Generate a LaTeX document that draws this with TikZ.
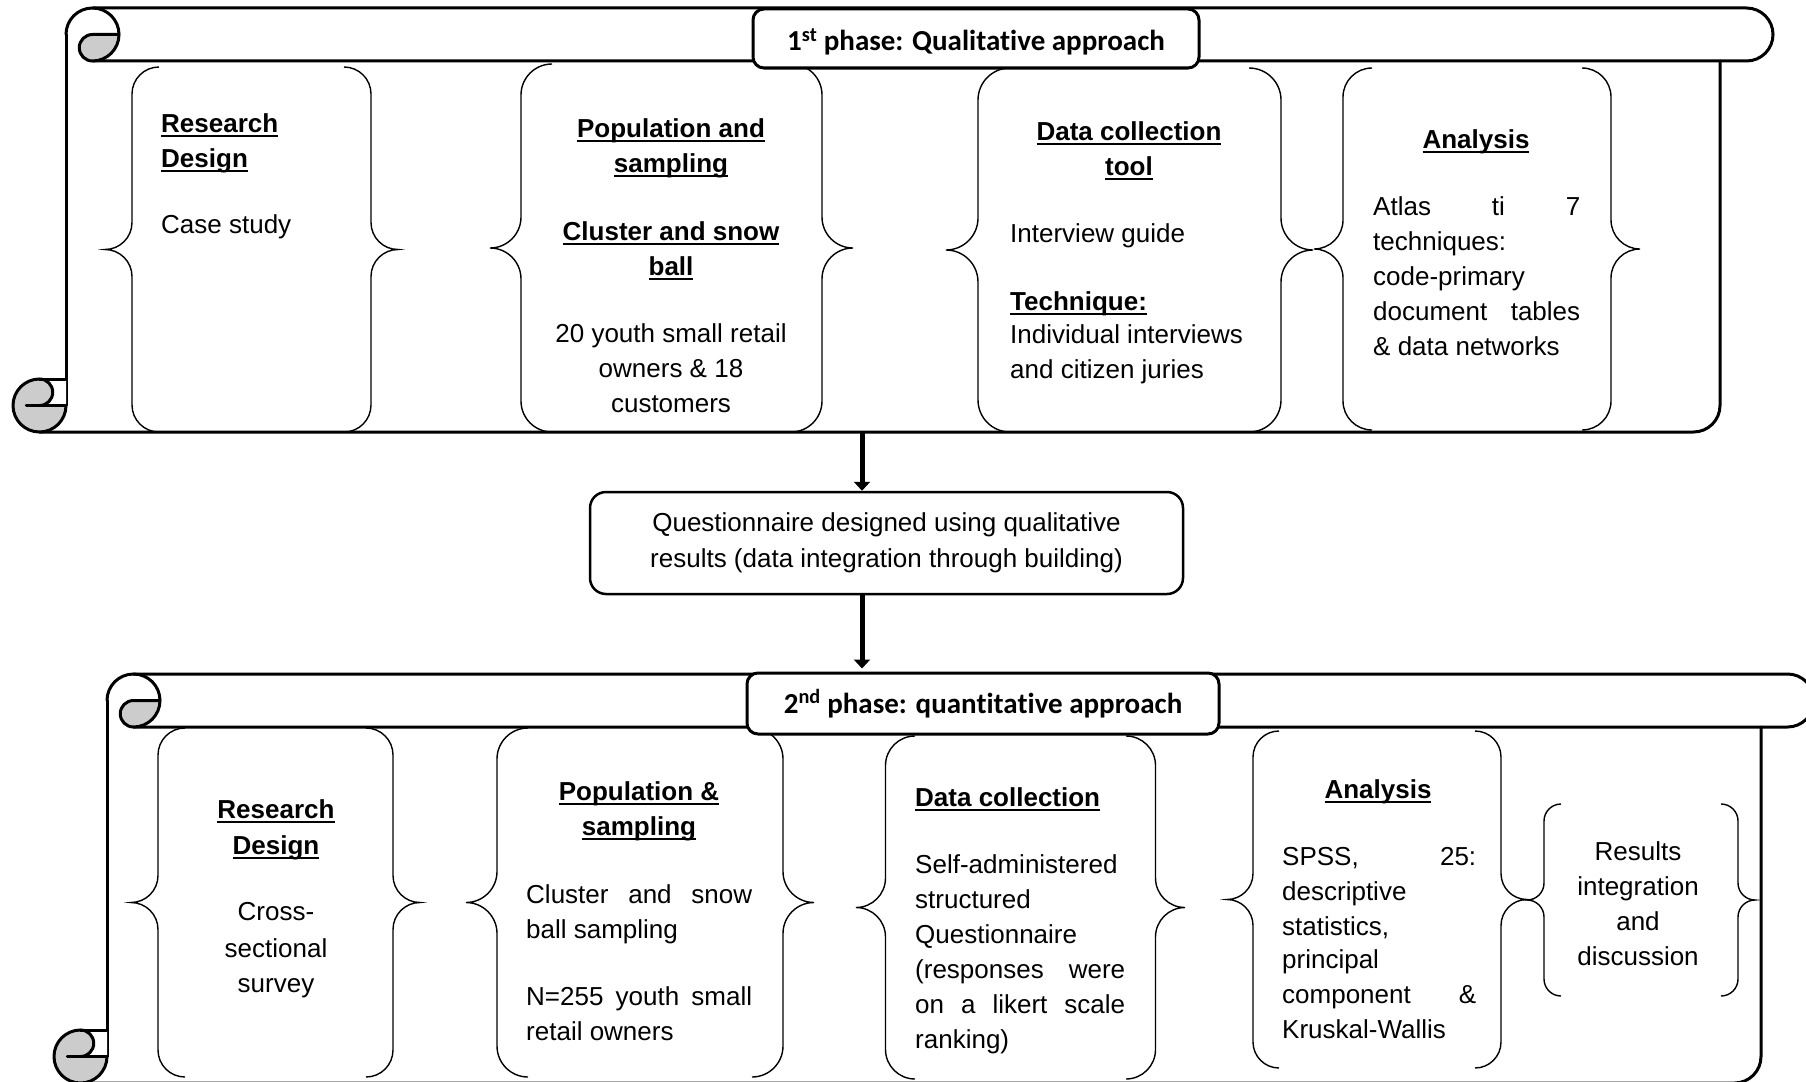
\documentclass[tikz,border=0pt]{standalone}
\usepackage{fontspec}
\setmainfont{Liberation Sans}
\newfontfamily\calfont[Ligatures=NoCommon]{Carlito}
\usetikzlibrary{arrows.meta}

% bold-style underline placed close under the baseline
\newcommand\ulin[1]{\setbox0=\hbox{#1}\rlap{\rule[-5pt]{\wd0}{2.4pt}}\box0}

\definecolor{rollgray}{HTML}{CCCCCC}

\tikzset{
  scrl/.style={line width=3pt, line join=round, line cap=round},
  brc/.style={line width=1.4pt},
  txt/.style={font=\fontsize{26}{35}\selectfont, inner sep=0pt},
  hd/.style={txt, font=\fontsize{26}{35}\selectfont\bfseries},
  lab/.style={draw, fill=white, line width=3pt, rounded corners=11pt, inner sep=0pt,
              font=\calfont\fontsize{29}{35}\selectfont\bfseries},
  midbox/.style={draw, fill=white, line width=2.5pt, rounded corners=16pt, inner sep=0pt,
                 minimum width=593pt, minimum height=102pt},
  arr/.style={line width=5pt, -{Triangle[width=16pt,length=9pt]}}
}

% horizontal scroll: left, top, right, bottom (band height 53)
\newcommand\scrollshape[4]{%
  % top band with rounded right end
  \draw[scrl] ({#1+79.5},#2) -- ({#3-26.5},#2)
     arc[start angle=270,end angle=450,radius=26.5] -- ({#1+79.5},{#2+53});
  % rolled top-left end
  \filldraw[scrl,fill=rollgray] ({#1+79.5},{#2+26.5}) -- ({#1+106},{#2+26.5})
     arc[start angle=0,end angle=90,radius=26.5]
     arc[start angle=90,end angle=270,radius=13.25] -- cycle;
  \draw[scrl] ({#1+53},{#2+26.5}) arc[start angle=180,end angle=360,radius=26.5];
  % body sides and bottom
  \draw[scrl] ({#1+53},{#2+26.5}) -- ({#1+53},{#4-26.5});
  \draw[scrl] ({#3-53},{#2+53}) -- ({#3-53},{#4-26.5})
     arc[start angle=0,end angle=90,radius=26.5] -- ({#1+26.5},#4);
  % rolled bottom-left end
  \fill[rollgray] ({#1+26.5},{#4-26.5}) circle[radius=26.5];
  \fill[white] ({#1+26.5},{#4-53}) -- ({#1+53},{#4-53}) -- ({#1+53},{#4-26.5})
     -- ({#1+26.5},{#4-26.5}) arc[start angle=90,end angle=-90,radius=13.25] -- cycle;
  \draw[scrl] ({#1+26.5},{#4-53}) arc[start angle=270,end angle=0,radius=26.5];
  \draw[scrl] ({#1+26.5},{#4-53}) -- ({#1+53},{#4-53});
  \draw[scrl] ({#1+26.5},{#4-53}) arc[start angle=270,end angle=450,radius=13.25];
  \draw[scrl] ({#1+13.25},{#4-26.5}) -- ({#1+53},{#4-26.5});
}

% pair of curly braces: left, top, right, bottom, curl radius
\newcommand\bracepair[5]{%
  \draw[brc] ({#1+2*#5},#4) arc[start angle=90,end angle=180,radius=#5]
    -- ({#1+#5},{(#2+#4)/2+#5}) arc[start angle=0,end angle=-90,radius=#5]
    arc[start angle=90,end angle=0,radius=#5]
    -- ({#1+#5},{#2+#5}) arc[start angle=180,end angle=270,radius=#5];
  \draw[brc] ({#3-2*#5},#2) arc[start angle=270,end angle=360,radius=#5]
    -- ({#3-#5},{(#2+#4)/2-#5}) arc[start angle=180,end angle=90,radius=#5]
    arc[start angle=270,end angle=180,radius=#5]
    -- ({#3-#5},{#4-#5}) arc[start angle=0,end angle=90,radius=#5];
}

\begin{document}
\begin{tikzpicture}[x=1pt,y=-1pt]
\useasboundingbox (0,0) rectangle (1806,1081);
\clip (0,0) rectangle (1806,1081);

% ---------- first phase ----------
\scrollshape{13}{8}{1773}{432}
\bracepair{105}{67}{398}{432}{27}
\bracepair{490}{64}{853}{432}{31}
\bracepair{946}{68}{1313}{432}{32}
\bracepair{1314}{68}{1640}{430}{29}

\node[lab, minimum width=446pt, minimum height=59pt, text height=30pt, text depth=5pt]
  (lab1) at (976,38.5) {1\textsuperscript{st} phase: Qualitative approach};

\node[hd, anchor=base west] (a1) at (161,132) {\ulin{Research}};
\node[hd, anchor=base west] (a2) at (161,167) {\ulin{Design}};
\node[txt, anchor=base west] (a3) at (161,233) {Case study};

\node[hd, anchor=base] (b1) at (671,137) {\ulin{Population and}};
\node[hd, anchor=base] (b2) at (671,172) {\ulin{sampling}};
\node[hd, anchor=base] (b3) at (671,240) {\ulin{Cluster and snow}};
\node[hd, anchor=base] (b4) at (671,275) {\ulin{ball}};
\node[txt, anchor=base] (b5) at (671,342) {20 youth small retail};
\node[txt, anchor=base] (b6) at (671,377) {owners \& 18};
\node[txt, anchor=base] (b7) at (671,412) {customers};

\node[hd, anchor=base] (c1) at (1129,140) {\ulin{Data collection}};
\node[hd, anchor=base] (c2) at (1129,175) {\ulin{tool}};
\node[txt, anchor=base west] (c3) at (1010,242) {Interview guide};
\node[hd, anchor=base west] (c4) at (1010,310) {\ulin{Technique:}};
\node[txt, anchor=base west] (c5) at (1010,343) {Individual interviews};
\node[txt, anchor=base west] (c6) at (1010,378) {and citizen juries};

\node[hd, anchor=base] (d1) at (1476,148) {\ulin{Analysis}};
\node[txt, anchor=base west] (d2) at (1373,215) {\makebox[207pt][s]{Atlas ti 7}};
\node[txt, anchor=base west] (d3) at (1373,250) {techniques:};
\node[txt, anchor=base west] (d4) at (1373,285) {code-primary};
\node[txt, anchor=base west] (d5) at (1373,320) {\makebox[207pt][s]{document tables}};
\node[txt, anchor=base west] (d6) at (1373,355) {\& data networks};

% ---------- integration step ----------
\coordinate (s1bot) at (862,432);
\node[midbox] (mid) at (886.5,543) {};
\node[txt, anchor=base] (m1) at (886.5,531) {Questionnaire designed using qualitative};
\node[txt, anchor=base] (m2) at (886.5,567) {results (data integration through building)};

% ---------- second phase ----------
\scrollshape{54}{674}{1814}{1083}
\bracepair{131}{728}{420}{1077}{27}
\bracepair{466}{728}{814}{1077}{31}
\bracepair{856}{736}{1185}{1079}{29.5}
\bracepair{1227}{731}{1527}{1068}{26}
\bracepair{1527}{804}{1755}{996}{17}

\node[lab, minimum width=472pt, minimum height=61pt, text height=24pt, text depth=5pt]
  (lab2) at (983,703.5) {2\textsuperscript{nd} phase: quantitative approach};

\draw[arr] (s1bot) -- (s1bot |- mid.north);
\draw[arr, shorten >=3pt] (mid.south -| s1bot) -- (s1bot |- lab2.north);

\node[hd, anchor=base] (e1) at (276,818) {\ulin{Research}};
\node[hd, anchor=base] (e2) at (276,854) {\ulin{Design}};
\node[txt, anchor=base] (e3) at (276,920) {Cross-};
\node[txt, anchor=base] (e4) at (276,957) {sectional};
\node[txt, anchor=base] (e5) at (276,992) {survey};

\node[hd, anchor=base] (f1) at (639,800) {\ulin{Population \&}};
\node[hd, anchor=base] (f2) at (639,835) {\ulin{sampling}};
\node[txt, anchor=base west] (f3) at (526,903) {\makebox[226pt][s]{Cluster and snow}};
\node[txt, anchor=base west] (f4) at (526,938) {ball sampling};
\node[txt, anchor=base west] (f5) at (526,1005) {\makebox[226pt][s]{N=255 youth small}};
\node[txt, anchor=base west] (f6) at (526,1040) {retail owners};

\node[hd, anchor=base west] (g1) at (915,806) {\ulin{Data collection}};
\node[txt, anchor=base west] (g2) at (915,873) {Self-administered};
\node[txt, anchor=base west] (g3) at (915,908) {structured};
\node[txt, anchor=base west] (g4) at (915,943) {Questionnaire};
\node[txt, anchor=base west] (g5) at (915,978) {\makebox[210pt][s]{(responses were}};
\node[txt, anchor=base west] (g6) at (915,1013) {\makebox[210pt][s]{on a likert scale}};
\node[txt, anchor=base west] (g7) at (915,1048) {ranking)};

\node[hd, anchor=base] (h1) at (1378,798) {\ulin{Analysis}};
\node[txt, anchor=base west] (h2) at (1282,865) {\makebox[194pt][s]{SPSS, 25:}};
\node[txt, anchor=base west] (h3) at (1282,900) {descriptive};
\node[txt, anchor=base west] (h4) at (1282,935) {statistics,};
\node[txt, anchor=base west] (h5) at (1282,968) {principal};
\node[txt, anchor=base west] (h6) at (1282,1003) {\makebox[194pt][s]{component \&}};
\node[txt, anchor=base west] (h7) at (1282,1038) {Kruskal-Wallis};

\node[txt, anchor=base] (i1) at (1638,860) {Results};
\node[txt, anchor=base] (i2) at (1638,895) {integration};
\node[txt, anchor=base] (i3) at (1638,930) {and};
\node[txt, anchor=base] (i4) at (1638,965) {discussion};
\end{tikzpicture}
\end{document}
